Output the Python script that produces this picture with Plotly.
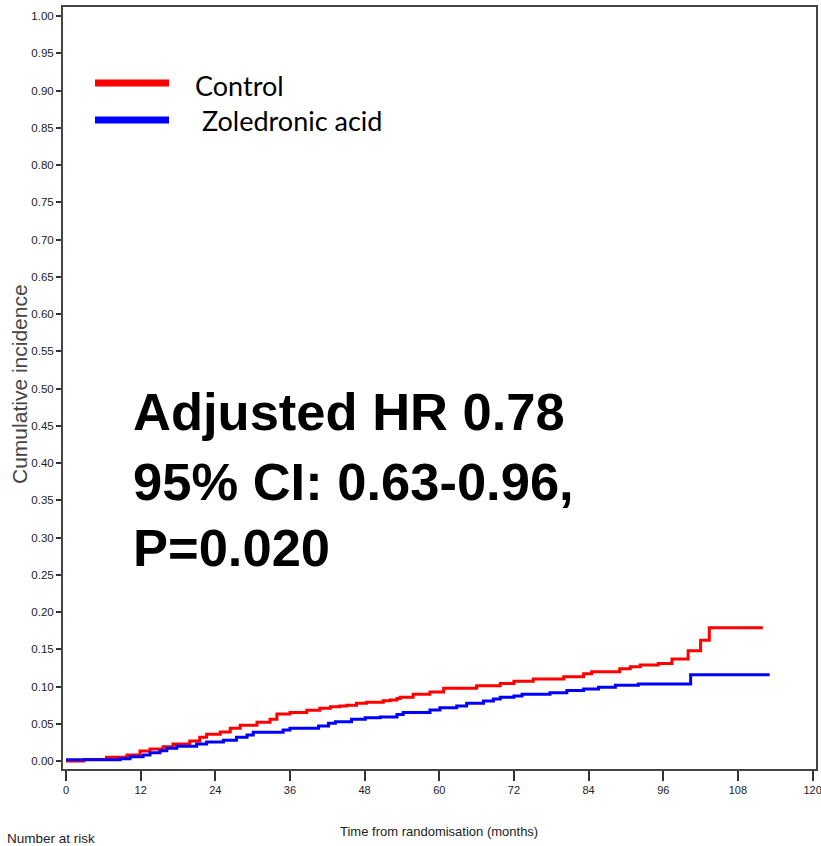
import plotly.graph_objects as go

# Cumulative incidence step functions (time in months)
control_months = [0, 2.9, 6.5, 9.8, 11.9, 13.5, 15.6, 17.2, 19.9, 21.5, 22.6, 24.8, 26.4, 28.0,
                  30.7, 32.8, 33.9, 36.0, 38.7, 40.8, 42.5, 44.0, 45.1, 46.7, 48.3, 51.0, 52.1,
                  53.2, 53.7, 55.8, 58.5, 60.7, 66.0, 69.8, 72.0, 75.1, 80.0, 83.2, 84.5, 89.0,
                  90.7, 92.3, 95.2, 97.4, 100.0, 102.0, 103.4, 112.0]
control_ci = [0.000, 0.002, 0.005, 0.008, 0.0134, 0.016, 0.019, 0.0228, 0.027, 0.032, 0.036, 0.039,
              0.044, 0.048, 0.052, 0.056, 0.063, 0.065, 0.068, 0.071, 0.073, 0.074, 0.075, 0.0774,
              0.079, 0.081, 0.082, 0.084, 0.0855, 0.0895, 0.0926, 0.0976, 0.101, 0.104, 0.107,
              0.110, 0.113, 0.117, 0.120, 0.124, 0.1266, 0.129, 0.131, 0.137, 0.148, 0.162,
              0.179, 0.179]

zol_months = [0, 8.7, 10.3, 12.4, 13.5, 15.1, 16.2, 17.8, 21.0, 22.6, 25.3, 27.4, 29.1, 30.1,
              34.9, 36.0, 40.6, 42.2, 43.3, 45.9, 48.1, 50.5, 53.2, 54.2, 58.5, 60.1, 62.8,
              64.4, 67.1, 68.7, 69.8, 72.0, 73.3, 77.8, 80.5, 83.2, 85.6, 88.3, 92.0, 100.4,
              113.1]
zol_ci = [0.0018, 0.003, 0.0058, 0.008, 0.011, 0.0138, 0.017, 0.0197, 0.0228, 0.0255, 0.028,
          0.0318, 0.035, 0.0385, 0.0416, 0.044, 0.047, 0.0506, 0.0528, 0.056, 0.058, 0.059,
          0.0626, 0.065, 0.0685, 0.0716, 0.0738, 0.0774, 0.0805, 0.0832, 0.0855, 0.0872,
          0.0895, 0.0917, 0.0948, 0.0966, 0.0989, 0.1016, 0.1034, 0.1158, 0.1158]

group_names = ["Control", " Zoledronic acid"]
group_colors = ["#ff0000", "#0000ff"]

x_ticks = list(range(0, 121, 12))
y_ticks = [round(i * 0.05, 2) for i in range(21)]

stats_lines = ["Adjusted HR 0.78", "95% CI: 0.63-0.96,", "P=0.020"]

W, H = 821, 846
L, R, T, B = 63, 5.3, 7, 77
plot_w = W - L - R
plot_h = H - T - B


def px(xpix):
    return (xpix - L) / plot_w


def py(ypix):
    return (H - B - ypix) / plot_h


sans = "Liberation Sans, Arial, sans-serif"

fig = go.Figure()
fig.add_trace(go.Scatter(x=control_months, y=control_ci, mode="lines", line_shape="hv",
                         line=dict(color=group_colors[0], width=3), name=group_names[0],
                         showlegend=False))
fig.add_trace(go.Scatter(x=zol_months, y=zol_ci, mode="lines", line_shape="hv",
                         line=dict(color=group_colors[1], width=3), name=group_names[1],
                         showlegend=False))

# Legend drawn as long thick keys
legend_rows = [(83, 86), (120, 121)]
for (line_y, text_y), name, color in zip(legend_rows, group_names, group_colors):
    fig.add_shape(type="line", xref="paper", yref="paper",
                  x0=px(95), x1=px(169), y0=py(line_y), y1=py(line_y),
                  line=dict(color=color, width=7))
    fig.add_annotation(xref="paper", yref="paper", x=px(193), y=py(text_y),
                       text=name, showarrow=False, xanchor="left", yanchor="middle",
                       font=dict(family="Lato, Open Sans, sans-serif", size=27, color="#000"))

# Hazard ratio statement
for line, cy in zip(stats_lines, [411, 481, 547]):
    fig.add_annotation(xref="paper", yref="paper", x=px(131), y=py(cy),
                       text=f"<b>{line}</b>", showarrow=False, xanchor="left", yanchor="middle",
                       font=dict(family=sans, size=52.5, color="#000"))

fig.add_annotation(xref="paper", yref="paper", x=px(439), y=py(831),
                   text="Time from randomisation (months)", showarrow=False,
                   xanchor="center", yanchor="middle",
                   font=dict(family=sans, size=13, color="#222"))
fig.add_annotation(xref="paper", yref="paper", x=px(5), y=py(838),
                   text="Number at risk", showarrow=False,
                   xanchor="left", yanchor="middle",
                   font=dict(family=sans, size=13.5, color="#222"))
fig.add_annotation(xref="paper", yref="paper", x=px(19), y=py(384),
                   text="Cumulative incidence", showarrow=False, textangle=-90,
                   xanchor="center", yanchor="middle",
                   font=dict(family=sans, size=21, color="#444"))

fig.update_layout(
    width=W, height=H,
    margin=dict(l=L, r=R, t=T, b=B, autoexpand=False),
    paper_bgcolor="white", plot_bgcolor="white",
    xaxis=dict(range=[-0.48, 120.55], tickvals=x_ticks, ticktext=[str(v) for v in x_ticks],
               showgrid=False, zeroline=False, showline=True, linecolor="#444", linewidth=2,
               mirror=True, ticks="outside", ticklen=10, tickwidth=1.5, tickcolor="#333",
               ticklabeloverflow="allow", automargin=False,
               tickfont=dict(family=sans, size=11, color="#222")),
    yaxis=dict(range=[-0.0107, 1.0121], tickvals=y_ticks, ticktext=[f"{v:.2f}" for v in y_ticks],
               showgrid=False, zeroline=False, showline=True, linecolor="#444", linewidth=2,
               mirror=True, ticks="outside", ticklen=5, tickwidth=1.5, tickcolor="#333",
               automargin=False,
               tickfont=dict(family=sans, size=11.5, color="#222")),
)

fig.write_html("out.html")
